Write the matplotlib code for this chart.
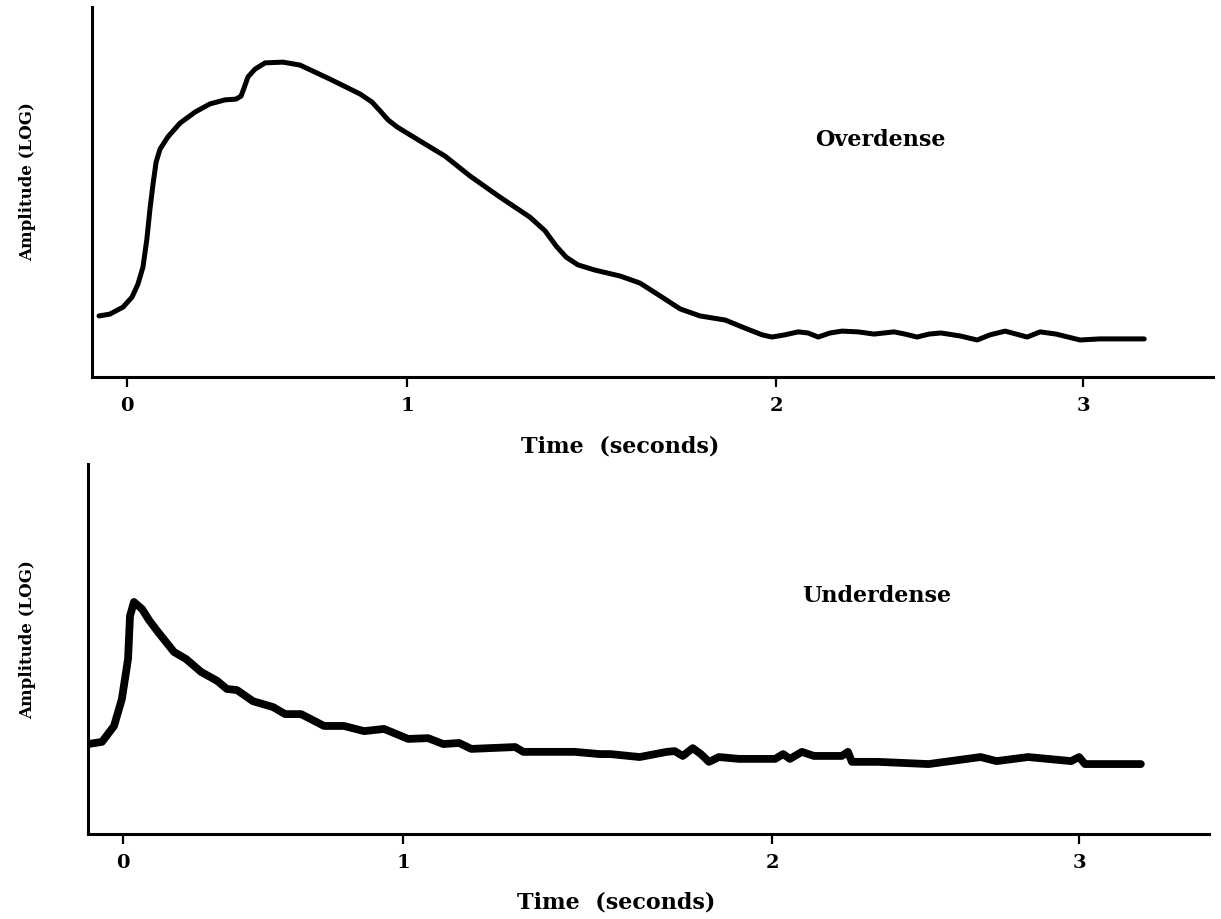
import numpy as np
import matplotlib
matplotlib.use("Agg")
import matplotlib.pyplot as plt

# overdense echo (time in s, log amplitude in arbitrary units 0-10)
over_t = [-0.100, -0.061, -0.014, 0.018, 0.039, 0.057, 0.071, 0.082, 0.093, 0.104,
          0.118, 0.146, 0.189, 0.243, 0.296, 0.350, 0.389, 0.407, 0.418, 0.432,
          0.457, 0.493, 0.557, 0.618, 0.725, 0.832, 0.875, 0.904, 0.932, 0.964,
          1.035, 1.103, 1.171, 1.252, 1.333, 1.374, 1.404, 1.431, 1.463, 1.509,
          1.577, 1.631, 1.686, 1.740, 1.794, 1.862, 1.916, 1.962, 1.989, 2.029,
          2.072, 2.104, 2.137, 2.176, 2.215, 2.267, 2.319, 2.384, 2.420, 2.459,
          2.498, 2.537, 2.599, 2.655, 2.697, 2.746, 2.782, 2.818, 2.860, 2.912,
          2.951, 2.990, 3.055, 3.199]
over_amp = [1.65, 1.70, 1.89, 2.16, 2.51, 2.97, 3.73, 4.54, 5.22, 5.81,
            6.16, 6.49, 6.86, 7.16, 7.38, 7.49, 7.51, 7.59, 7.81, 8.11,
            8.32, 8.49, 8.51, 8.43, 8.05, 7.65, 7.43, 7.19, 6.95, 6.76,
            6.38, 5.97, 5.43, 4.86, 4.32, 3.95, 3.54, 3.24, 3.03, 2.89,
            2.73, 2.54, 2.19, 1.84, 1.65, 1.54, 1.32, 1.14, 1.08, 1.14,
            1.22, 1.19, 1.08, 1.19, 1.24, 1.22, 1.16, 1.22, 1.16, 1.08,
            1.16, 1.19, 1.11, 1.00, 1.14, 1.24, 1.16, 1.08, 1.22, 1.16,
            1.08, 1.00, 1.03, 1.03]

# underdense echo
under_t = [-0.125, -0.075, -0.032, -0.004, 0.018, 0.025, 0.039, 0.068, 0.093, 0.125,
           0.182, 0.225, 0.279, 0.336, 0.371, 0.407, 0.464, 0.536, 0.579, 0.636,
           0.718, 0.789, 0.861, 0.932, 1.014, 1.068, 1.109, 1.152, 1.185, 1.304,
           1.326, 1.465, 1.533, 1.562, 1.641, 1.715, 1.736, 1.758, 1.785, 1.807,
           1.829, 1.856, 1.910, 2.010, 2.036, 2.058, 2.097, 2.136, 2.227, 2.247,
           2.260, 2.344, 2.510, 2.679, 2.731, 2.834, 2.974, 3.000, 3.019, 3.201]
under_amp = [2.43, 2.49, 2.92, 3.65, 4.73, 5.89, 6.27, 6.08, 5.78, 5.46,
             4.92, 4.73, 4.38, 4.14, 3.92, 3.89, 3.59, 3.43, 3.24, 3.24,
             2.92, 2.92, 2.78, 2.84, 2.57, 2.59, 2.43, 2.46, 2.30, 2.35,
             2.22, 2.22, 2.16, 2.16, 2.08, 2.22, 2.24, 2.11, 2.32, 2.16,
             1.95, 2.08, 2.03, 2.03, 2.16, 2.03, 2.22, 2.11, 2.11, 2.22,
             1.95, 1.95, 1.89, 2.08, 1.97, 2.08, 1.97, 2.08, 1.89, 1.89]

ticks = [0, 1, 2, 3]
tick_labels = ["0", "1", "2", "3"]

# the printed time axis is not evenly spaced, so map it piecewise
T_KNOTS = [-10, 0, 1, 2, 3, 10]
P_KNOTS = [127 - 2800, 127, 407, 776, 1083, 1083 + 7 * 307]


def fwd(t):
    return np.interp(t, T_KNOTS, P_KNOTS)


def inv(p):
    return np.interp(p, P_KNOTS, T_KNOTS)


font = "DejaVu Serif"
W, H = 1221, 920
fig = plt.figure(figsize=(W / 100, H / 100), dpi=100)

panels = [
    # left px, top px, data, lw, label, label pos, xlabel y px, ylabel y px
    (92, 8, over_t, over_amp, 3.6, "Overdense", (2.34, 6.43), 447, 182),
    (88, 465, under_t, under_amp, 5.6, "Underdense", (2.34, 6.46), 903, 640),
]

for left, top, t, amp, lw, name, npos, xl_y, yl_y in panels:
    ax = fig.add_axes([left / W, 1 - (top + 370) / H, 1121 / W, 370 / H])
    ax.set_xscale("function", functions=(fwd, inv))
    ax.plot(t, amp, color="black", lw=lw, solid_joinstyle="round",
            solid_capstyle="round")
    ax.set_xlim(-0.125, 3.423)
    ax.set_ylim(0, 10)
    ax.set_xticks(ticks)
    ax.set_xticklabels(tick_labels, fontfamily=font, fontweight="bold",
                       fontsize=14)
    ax.set_yticks([])
    ax.tick_params(axis="x", direction="out", length=7, width=1.6, pad=7)
    for s in ["top", "right"]:
        ax.spines[s].set_visible(False)
    for s in ["left", "bottom"]:
        ax.spines[s].set_linewidth(2.2)
    ax.text(npos[0], npos[1], name, fontfamily=font, fontweight="bold",
            fontsize=16, ha="center", va="center")
    fig.text((left + 528) / W, 1 - xl_y / H, "Time  (seconds)",
             fontfamily=font, fontweight="bold", fontsize=16,
             ha="center", va="center")
    fig.text(28 / W, 1 - yl_y / H, "Amplitude (LOG)", fontfamily=font,
             fontweight="bold", fontsize=12, rotation=90,
             ha="center", va="center")

fig.savefig("out.png", dpi=100)
